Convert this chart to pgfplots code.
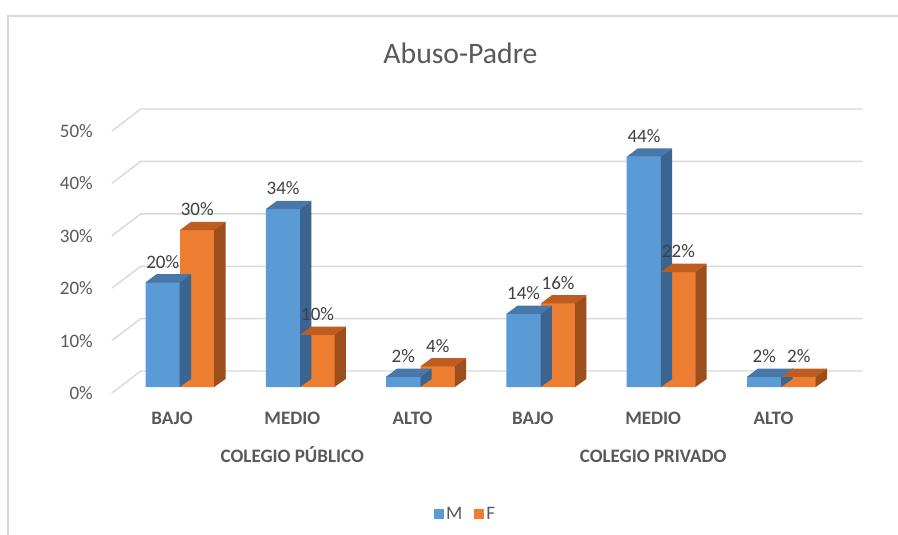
\documentclass[border=0pt]{standalone}
\usepackage{fontspec}
\setmainfont{Carlito}
\usepackage{pgfplots}
\pgfplotsset{compat=1.18}
\usepackage{pgfplotstable}

\definecolor{cM}{HTML}{5B9BD5}
\definecolor{cMtop}{HTML}{4878AA}
\definecolor{cMside}{HTML}{3B6590}
\definecolor{cF}{HTML}{ED7D31}
\definecolor{cFtop}{HTML}{BF5C20}
\definecolor{cFside}{HTML}{9C4F1C}
\definecolor{txt}{HTML}{595959}
\definecolor{lbl}{HTML}{404040}
\definecolor{gridc}{HTML}{D9D9D9}

\newcommand\lf{\fontsize{19}{22}\selectfont}

\pgfplotstableread{
x M F
0 20 30
1 34 10
2 2 4
3 14 16
4 44 22
5 2 2
}\datos

% top and side faces of a 3D bar; #1 = left edge of the front face
\newcommand\hval{0}
\newcommand\caras[3]{%
  \pgfmathsetlengthmacro\hh{\hval*5.24pt}%
  \pgfmathsetlengthmacro\xr{#1+34.5pt}%
  \pgfsetfillcolor{#3}%
  \pgfpathmoveto{\pgfpoint{\xr-0.3pt}{0pt}}%
  \pgfpathlineto{\pgfpoint{\xr+11pt}{8pt}}%
  \pgfpathlineto{\pgfpoint{\xr+11pt}{8pt-\hh}}%
  \pgfpathlineto{\pgfpoint{\xr-0.3pt}{-\hh}}%
  \pgfpathclose\pgfusepath{fill}%
  \pgfsetfillcolor{#2}%
  \pgfpathmoveto{\pgfpoint{#1}{-0.3pt}}%
  \pgfpathlineto{\pgfpoint{\xr}{-0.3pt}}%
  \pgfpathlineto{\pgfpoint{\xr+11pt}{8pt}}%
  \pgfpathlineto{\pgfpoint{#1+11pt}{8pt}}%
  \pgfpathclose\pgfusepath{fill}%
}
\pgfdeclareplotmark{carasM}{\caras{-34.5pt}{cMtop}{cMside}}
\pgfdeclareplotmark{carasF}{\caras{0pt}{cFtop}{cFside}}

\pgfplotsset{
  etiq/.style={
    nodes near coords={\pgfmathprintnumber{\pgfplotspointmeta}\%},
    every node near coord/.append style={font=\lf, text=lbl, inner sep=0pt, anchor=base, yshift=14pt, xshift=#1}},
}

\begin{document}
\begin{tikzpicture}
\useasboundingbox (0,0) rectangle (898pt,-535pt);
\fill[white] (0,0) rectangle (898pt,-535pt);
\draw[gridc, line width=2pt] (8pt,-545pt) -- (8pt,-16pt) -- (910pt,-16pt);
\node[font=\fontsize{29.7}{34}\selectfont, text=txt] at (460.5pt,-53pt) {Abuso-Padre};

\begin{axis}[
  at={(119.85pt,-387pt)}, anchor=south west,
  x=120.3pt, y=5.24pt,
  xmin=-0.5, xmax=5.5, ymin=0, ymax=50,
  clip=false,
  axis line style={draw=none},
  major tick length=0pt,
  /pgf/number format/assume math mode=true,
  xtick={0,...,5},
  xticklabels={BAJO,MEDIO,ALTO,BAJO,MEDIO,ALTO},
  xticklabel style={font=\lf\bfseries, text=txt, inner sep=0pt, anchor=base, xshift=-8pt, yshift=-37pt},
  extra x ticks={1,4},
  extra x tick labels={COLEGIO PÚBLICO,COLEGIO PRIVADO},
  extra x tick style={xticklabel style={yshift=-38pt}},
  ytick={0,10,...,50},
  yticklabel={\pgfmathprintnumber{\tick}\%},
  yticklabel style={font=\lf, text=txt, inner sep=0pt, anchor=east, xshift=-26.85pt, yshift=-6pt},
  legend columns=2,
  legend style={at={(0.479,-0.485)}, anchor=center, draw=none, fill=none, text=txt,
    nodes={font=\lf}, /tikz/every even column/.append style={column sep=10pt}},
]
% back wall gridlines with the left stubs
\pgfplotsinvokeforeach{0,10,...,50}{
  \draw[gridc, line width=1.4pt] ([xshift=-8pt,yshift=-6pt]axis cs:-0.5,#1) -- ([xshift=21pt,yshift=16pt]axis cs:-0.5,#1) -- ([xshift=21pt,yshift=16pt]axis cs:5.5,#1);
}
\addplot[ybar, bar width=34.5pt, bar shift=-17.25pt, fill=cM, draw=none, etiq=-17.25pt,
  legend image code/.code={\fill[cM] (0pt,-5pt) rectangle (10pt,5pt);}]
  table[x=x, y=M] {\datos};
\addlegendentry{M}
\addplot[only marks, mark=carasM, forget plot,
  visualization depends on={rawy \as \hval}]
  table[x=x, y=M] {\datos};
\addplot[ybar, bar width=34.5pt, bar shift=17.25pt, fill=cF, draw=none, etiq=17.25pt,
  legend image code/.code={\fill[cF] (0pt,-5pt) rectangle (10pt,5pt);}]
  table[x=x, y=F] {\datos};
\addlegendentry{F}
\addplot[only marks, mark=carasF, forget plot,
  visualization depends on={rawy \as \hval}]
  table[x=x, y=F] {\datos};
\end{axis}
\end{tikzpicture}
\end{document}
